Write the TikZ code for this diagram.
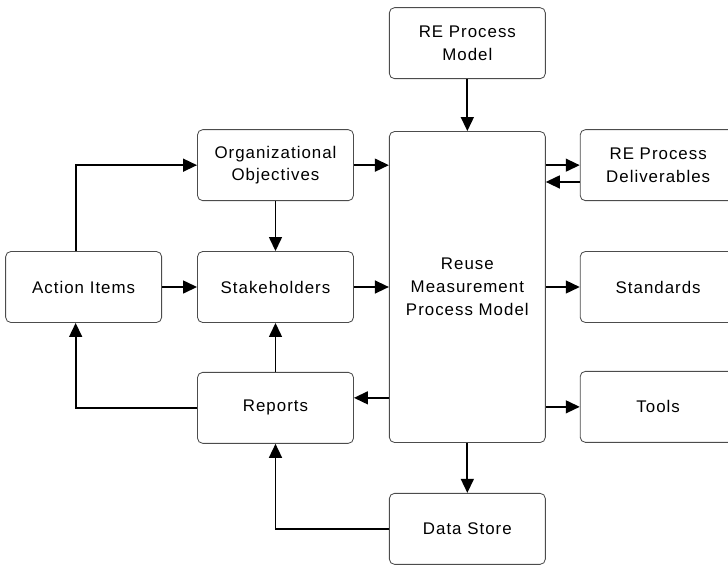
\documentclass[tikz,border=0pt]{standalone}
\usepackage{fontspec}
\setmainfont[LetterSpace=6]{Liberation Sans}
\usepackage{tikz}
\usetikzlibrary{positioning,arrows.meta}

\begin{document}
\begin{tikzpicture}[
	box/.style={draw=black!70, line width=0.6pt, rounded corners=0.13cm, align=center,
		minimum width=3.9cm, minimum height=1.775cm, font=\fontsize{12}{16.3}\selectfont},
	arr/.style={line width=1.4pt, -{Triangle[length=0.35cm,width=0.32cm]}},
	node distance=1.25cm and 0.875cm]
	\useasboundingbox (0,0) rectangle (18.2,-14.1);
	% left and middle columns
	\node[box] (stake) at (6.8875,-7.175) {Stakeholders};
	\node[box, left=of stake] (action) {Action Items};
	\node[box, above=of stake] (orgobj) {Organizational\\Objectives};
	\node[box, below=1.225cm of stake] (reports) {Reports};
	% central model
	\node[box, right=of stake, minimum height=7.775cm] (model) {Reuse\\Measurement\\Process Model};
	\node[box, above=1.3cm of model] (remodel) {RE Process\\Model};
	\node[box, below=1.25cm of model] (datastore) {Data Store};
	% right column
	\node[box, right=0.85cm of model] (standards) {Standards};
	\node[box, above=1.25cm of standards] (deliv) {RE Process\\Deliverables};
	\node[box, below=1.2cm of standards] (tools) {Tools};

	\draw[arr] (remodel) -- (model);
	\draw[arr] (orgobj) -- (orgobj -| model.west);
	\draw[arr] (stake) -- (stake -| model.west);
	\draw[arr] (action) -- (stake);
	\draw[arr] (orgobj) -- (stake);
	\draw[arr] ([xshift=-0.2cm]action.north) |- (orgobj.west);
	\draw[arr] (deliv.west -| model.east) -- (deliv.west);
	\draw[arr] ([yshift=-0.42cm]deliv.west) -- ([yshift=-0.42cm]deliv.west -| model.east);
	\draw[arr] (model) -- (standards);
	\draw[arr] (tools -| model.east) -- (tools);
	\draw[arr] ([yshift=0.25cm]reports.east -| model.west) -- ([yshift=0.25cm]reports.east);
	\draw[arr] (reports) -- (stake);
	\draw[arr] (reports.west) -| ([xshift=-0.2cm]action.south);
	\draw[arr] (model) -- (datastore);
	\draw[arr] (datastore.west) -| (reports.south);
\end{tikzpicture}
\end{document}
